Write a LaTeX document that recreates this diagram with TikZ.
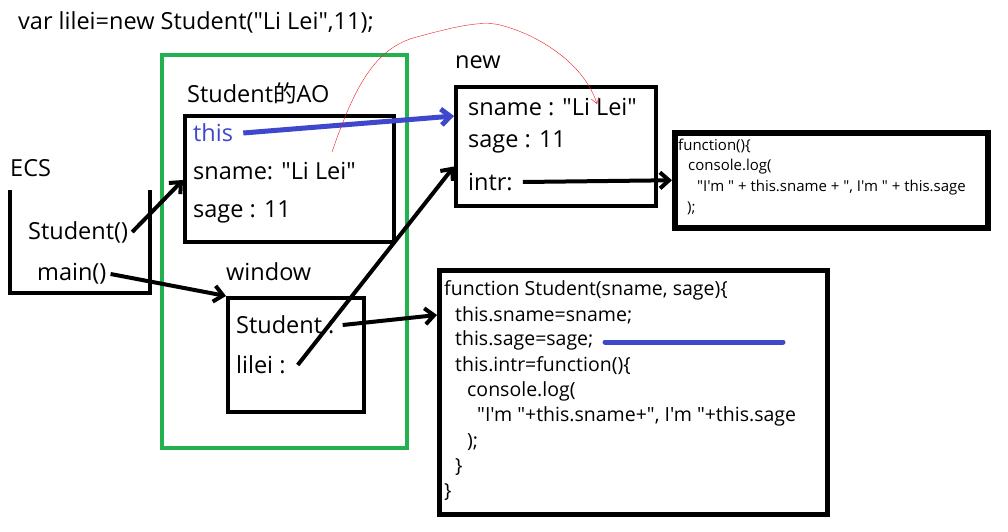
\documentclass[tikz,border=0pt]{standalone}
\usepackage{fontspec}
\newfontfamily\uifont{Open Sans}
\newfontfamily\cjk{Noto Sans CJK SC}
\usetikzlibrary{arrows.meta}
\definecolor{aogreen}{RGB}{34,177,76}
\definecolor{thisblue}{RGB}{63,72,204}
\definecolor{inkred}{RGB}{237,28,36}

\begin{document}
\begin{tikzpicture}[x=1pt, y=-1pt,
  every node/.style={font=\uifont\fontsize{23.5}{28}\selectfont, inner sep=0pt, anchor=west},
  box/.style={draw, line width=4pt, anchor=north west},
  code/.style={font=\uifont\fontsize{19.5}{23}\selectfont},
  smallcode/.style={font=\uifont\fontsize{15}{18}\selectfont},
  link/.style={line width=4pt, -{Straight Barb[length=9pt,width=16pt]}}]
\useasboundingbox (0,0) rectangle (1008,532);
\node (Title) at (18,22) {var lilei=new Student("Li Lei",11);};
% global scope
\node (ECS) at (10,168) {ECS};
\draw[line width=4pt] (10,190) |- (150,293) -- (150,190);
\node (Est) at (28,232) {Student()};
\node (Emain) at (37,274) {main()};
% AO
\draw[aogreen, line width=4pt] (162,55) rectangle (407,448);
\node (AOlbl) at (187,93) {Student{\cjk 的}AO};
\node[box, minimum width=209pt, minimum height=126pt] (AO) at (183,114) {};
\node[text=thisblue] (AOthis) at (193,133) {this};
\node (AOsn) at (193,171) {sname: "Li Lei"};
\node (AOsa) at (193,212) {sage : 11};
\node (Wlbl) at (226,272) {window};
\node[box, minimum width=136pt, minimum height=114pt] (Win) at (226,296) {};
\node (Wst) at (236,325) {Student :};
\node (Wli) at (236,365) {lilei :};
% new object
\node (Nlbl) at (455,62) {new};
\node[box, minimum width=200pt, minimum height=119pt] (New) at (454,85) {};
\node (Nsn) at (468,107) {sname : "Li Lei"};
\node (Nsa) at (468,142) {sage : 11};
\node (Nin) at (468,182) {intr:};
% functions
\node[box, line width=5.5pt, minimum width=313pt, minimum height=95pt] (Fi) at (672,130) {};
\node[smallcode] (Fi1) at (678,146) {function()\{};
\node[smallcode] (Fi2) at (688,167) {console.log(};
\node[smallcode] (Fi3) at (697,188) {"I'm " + this.sname + ", I'm " + this.sage};
\node[smallcode] (Fi4) at (687,208) {);};
\node[box, line width=5pt, minimum width=388pt, minimum height=244pt] (Fs) at (437,268) {};
\node[code] (Fs1) at (444,290) {function Student(sname, sage)\{};
\node[code] (Fs2) at (455,315) {this.sname=sname;};
\node[code] (Fs3) at (455,340) {this.sage=sage;};
\node[code] (Fs4) at (455,366) {this.intr=function()\{};
\node[code] (Fs5) at (467,391) {console.log(};
\node[code] (Fs6) at (477,416) {"I'm "+this.sname+", I'm "+this.sage};
\node[code] (Fs7) at (467,442) {);};
\node[code] (Fs8) at (455,467) {\}};
\node[code] (Fs9) at (444,492) {\}};
\draw[thisblue, line width=5pt, line cap=round] (605,342) -- (783,342);
% references
\draw[link] ([xshift=4pt]Est.east) -- (AO.west |- AOsn.south);
\draw[link] ([xshift=4pt]Emain.east) -- (Win.north west);
\draw[link] ([xshift=8pt]Wst.east) -- (Fs.west |- Fs2);
\draw[link] ([xshift=12pt]Wli.east) -- ([yshift=-20pt]New.west);
\draw[link, thisblue, line width=5pt] ([xshift=10pt]AOthis.east) -- (New.west |- Nsn.south);
\draw[link] ([xshift=10pt]Nin.east) -- (Fi.west);
\coordinate (Rfrom) at (332,152);
\coordinate (Rto) at (597,104);
\draw[inkred, -{Straight Barb[length=6pt,width=8pt]}] (Rfrom) .. controls (355,85) and (375,50) .. (413,38) .. controls (450,28) and (480,20) .. (500,25) .. controls (540,35) and (585,65) .. (Rto);
\end{tikzpicture}
\end{document}
